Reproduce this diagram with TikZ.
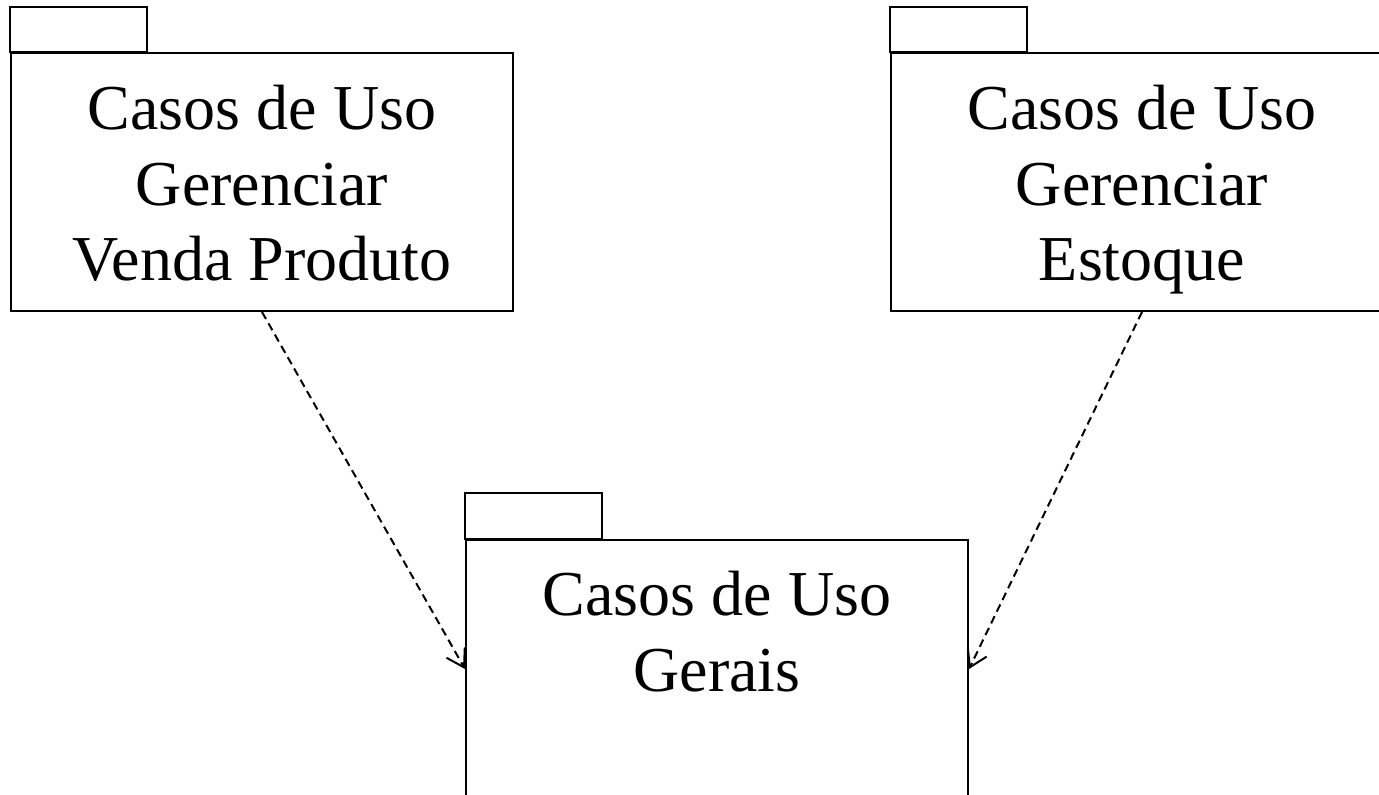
\documentclass[tikz,border=0pt]{standalone}
\usepackage{fontspec}
\setmainfont{Liberation Serif}
\usetikzlibrary{arrows.meta,positioning}

\tikzset{
  pkgbody/.style={draw, line width=2pt, minimum width=502pt, minimum height=258pt, inner sep=0pt},
  pkgtext/.style={align=center, inner sep=0pt, font=\fontsize{64}{75.5}\selectfont},
  depend/.style={line width=2pt, dash pattern=on 8pt off 5pt, -{Straight Barb[length=17pt,width=21pt,line width=2pt]}}
}

\begin{document}
\begin{tikzpicture}[x=1pt,y=-1pt]
\useasboundingbox (0,0) rectangle (1379,795);

% packages
\node[pkgbody] (venda) at (262,182) {};
\draw[line width=2pt] (venda.north west) rectangle ++(137,-45);
\node[pkgtext, below=33pt of venda.north] (vendatxt) {Casos de Uso\\Gerenciar\\Venda Produto};

\node[pkgbody] (estoque) at (1142,182) {};
\draw[line width=2pt] (estoque.north west) rectangle ++(137,-45);
\node[pkgtext, below=33pt of estoque.north] (estoquetxt) {Casos de Uso\\Gerenciar\\Estoque};

\node[pkgbody] (gerais) at (717,669) {};
\draw[line width=2pt] (gerais.north west) rectangle ++(137,-46);
\node[pkgtext, below=32pt of gerais.north] (geraistxt) {Casos de Uso\\Gerais};

% dependencies
\draw[depend] (venda.south) -- (gerais.west);
\draw[depend] (estoque.south) -- (gerais.east);

\end{tikzpicture}
\end{document}
